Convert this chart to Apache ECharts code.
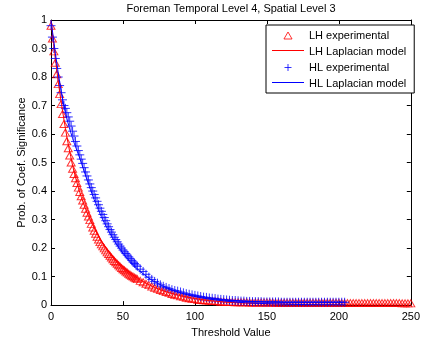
<!DOCTYPE html>
<html>
<head>
<meta charset="utf-8">
<script src="https://cdn.jsdelivr.net/npm/echarts@6/dist/echarts.min.js"></script>
<style>
html,body{margin:0;padding:0;background:#fff;}
#chart{width:423px;height:343px;}
</style>
</head>
<body>
<div id="chart"></div>
<script>
// ---- Data ----
const titleText = 'Foreman Temporal Level 4, Spatial Level 3';
const xName = 'Threshold Value';
const yName = 'Prob. of Coef. Significance';
const seriesNames = ['LH experimental', 'LH Laplacian model', 'HL experimental', 'HL Laplacian model'];

// LH experimental
const lhExpT = [0,1,2,3,4,5,6,7,8,9,10,11,12,13,14,15,16,17,18,19,20,21,22,23,24,25,26,27,28,29,30,31,32,33,34,35,36,37,38,39,40,41,42,43,44,45,46,47,48,49,50,51,52,53,54,55,56,57,58,59,60,
  62,64,66,68,70,72,74,76,78,80,82,84,86,88,90,92,94,96,98,100,102,104,106,108,110,112,114,116,118,120,122,124,126,128,130,132,134,136,138,140,142,144,146,148,150,152,154,156,158,160,162,164,166,168,170,172,174,176,178,180,182,184,186,188,190,192,194,196,198,200,202,204,206,208,210,212,214,216,218,220,222,224,226,228,230,232,234,236,238,240,242,244,246,248,250];
const lhExpP = [0.98,0.935,0.89,0.85,0.81,0.775,0.74,0.705,0.67,0.635,0.605,0.575,0.55,0.525,0.50,0.478,0.46,0.445,0.428,0.412,0.397,0.382,0.367,0.352,0.338,0.324,0.311,0.298,0.285,0.272,0.261,0.25,0.24,0.23,0.221,0.213,0.206,0.199,0.192,0.185,0.179,0.173,0.167,0.161,0.155,0.15,0.145,0.14,0.135,0.13,0.126,0.122,0.118,0.114,0.11,0.106,0.103,0.1,0.097,0.094,0.091,
  0.085,0.08,0.075,0.07,0.065,0.061,0.057,0.053,0.049,0.046,0.043,0.039,0.036,0.034,0.031,0.029,0.026,0.024,0.022,0.021,0.019,0.018,0.017,0.016,0.015,0.014,0.014,0.013,0.012,0.012,0.011,0.011,0.011,0.010,0.010,0.010,0.010,0.010,0.009,0.009,0.009,0.009,0.009,0.009,0.009,0.009,0.009,0.008,0.008,0.008,0.008,0.008,0.008,0.008,0.008,0.008,0.008,0.008,0.008,0.008,0.008,0.008,0.008,0.008,0.008,0.008,0.008,0.008,0.008,0.008,0.007,0.007,0.007,0.007,0.007,0.007,0.007,0.007,0.007,0.007,0.007,0.007,0.007,0.007,0.007,0.007,0.007,0.007,0.007,0.007,0.007,0.006,0.006,0.006,0.006,0.006];

// LH Laplacian model
const lhModT = [0,5,10,15,20,25,30,35,40,45,50,55,60,65,70,75,80,85,90,95,100,110,120,130,140,150,175,200,250];
const lhModP = [1.0,0.785,0.62,0.49,0.395,0.325,0.27,0.225,0.19,0.16,0.135,0.113,0.095,0.08,0.067,0.056,0.047,0.04,0.033,0.028,0.023,0.016,0.011,0.008,0.006,0.004,0.002,0.001,0.0];

// HL experimental
const hlExpT = [0,1,2,3,4,5,6,7,8,9,10,11,12,13,14,15,16,17,18,19,20,21,22,23,24,25,26,27,28,29,30,31,32,33,34,35,36,37,38,39,40,41,42,43,44,45,46,47,48,49,50,51,52,53,54,55,56,57,58,59,60,
  62,64,66,68,70,72,74,76,78,80,82,84,86,88,90,92,94,96,98,100,102,104,106,108,110,112,114,116,118,120,122,124,126,128,130,132,134,136,138,140,142,144,146,148,150,152,154,156,158,160,162,164,166,168,170,172,174,176,178,180,182,184,186,188,190,192,194,196,198,200,202,204];
const hlExpP = [0.98,0.94,0.90,0.865,0.83,0.80,0.77,0.745,0.72,0.70,0.69,0.675,0.66,0.645,0.628,0.61,0.593,0.574,0.558,0.542,0.527,0.512,0.497,0.482,0.467,0.453,0.439,0.425,0.412,0.40,0.388,0.376,0.364,0.352,0.34,0.329,0.318,0.307,0.296,0.285,0.275,0.265,0.256,0.247,0.238,0.23,0.222,0.214,0.207,0.20,0.193,0.187,0.181,0.175,0.169,0.163,0.157,0.151,0.146,0.141,0.136,
  0.126,0.118,0.108,0.098,0.09,0.083,0.077,0.071,0.066,0.062,0.058,0.054,0.051,0.049,0.046,0.043,0.04,0.038,0.036,0.034,0.032,0.03,0.028,0.027,0.025,0.024,0.023,0.021,0.02,0.019,0.018,0.017,0.016,0.016,0.015,0.014,0.014,0.013,0.013,0.012,0.012,0.012,0.012,0.011,0.011,0.011,0.011,0.011,0.011,0.010,0.010,0.010,0.010,0.010,0.010,0.010,0.010,0.010,0.010,0.010,0.010,0.010,0.010,0.010,0.010,0.010,0.010,0.010,0.010,0.010,0.010,0.010];

// HL Laplacian model
const hlModT = [0,5,10,15,20,25,30,35,40,45,50,55,60,65,70,75,80,85,90,95,100,110,120,130,140,150,175,205];
const hlModP = [1.0,0.815,0.675,0.585,0.515,0.44,0.37,0.31,0.26,0.217,0.182,0.152,0.127,0.106,0.088,0.074,0.062,0.051,0.043,0.036,0.03,0.021,0.015,0.01,0.007,0.005,0.002,0.001];

// axis ranges / ticks
const xMin = 0, xMax = 250, xStep = 50;
const yMin = 0, yMax = 1, yStep = 0.1;

function pairs(t, p) { return t.map((v, i) => [v, p[i]]); }

const RED = '#ff0000', BLUE = '#0000ff';
const FONT = 'Liberation Sans, Arial, sans-serif';
const FS = 11;
const plusPath = 'path://M0,5L10,5M5,0L5,10';
const triPath = 'path://M0,10L5.8,0L11.6,10Z';
const NOFILL = 'rgba(0,0,0,0)';

const axisCommon = {
  type: 'value',
  axisLine: { show: true, onZero: false, lineStyle: { color: '#000', width: 1 } },
  axisTick: { show: true, inside: true, length: 4, lineStyle: { color: '#000' } },
  splitLine: { show: false },
  axisLabel: { color: '#000', fontSize: FS, fontFamily: FONT }
};

const chart = echarts.init(document.getElementById('chart'), null, { renderer: 'canvas' });
chart.setOption({
  animation: false,
  backgroundColor: '#fff',
  title: {
    text: titleText, left: 231, top: 3, padding: 0, textAlign: 'center',
    textStyle: { fontSize: FS, fontWeight: 'normal', color: '#000', fontFamily: FONT }
  },
  grid: { left: 51, right: 8, top: 20, bottom: 37, containLabel: false },
  legend: {
    orient: 'vertical', left: 266, top: 25,
    backgroundColor: '#fff', borderColor: '#000', borderWidth: 1,
    padding: [5, 8, 4, 6], itemWidth: 32, itemHeight: 7, itemGap: 5,
    symbolKeepAspect: true,
    textStyle: { fontSize: FS, color: '#000', fontFamily: FONT },
    data: [
      { name: seriesNames[0], icon: triPath, itemStyle: { color: NOFILL, borderColor: RED, borderWidth: 1 } },
      { name: seriesNames[1], icon: 'none' },
      { name: seriesNames[2], icon: plusPath, itemStyle: { color: NOFILL, borderColor: BLUE, borderWidth: 1 } },
      { name: seriesNames[3], icon: 'none' }
    ]
  },
  // legend line swatches for the two model curves
  graphic: [
    { type: 'line', z: 100, silent: true, shape: { x1: 272, y1: 50.5, x2: 304, y2: 50.5 }, style: { stroke: RED, lineWidth: 1 } },
    { type: 'line', z: 100, silent: true, shape: { x1: 272, y1: 82.5, x2: 304, y2: 82.5 }, style: { stroke: BLUE, lineWidth: 1 } }
  ],
  xAxis: [
    Object.assign({}, axisCommon, {
      min: xMin, max: xMax, interval: xStep, position: 'bottom',
      name: xName, nameLocation: 'middle', nameGap: 19,
      nameTextStyle: { fontSize: FS, color: '#000', fontFamily: FONT },
      axisLabel: Object.assign({}, axisCommon.axisLabel, { margin: 6 })
    }),
    Object.assign({}, axisCommon, {
      min: xMin, max: xMax, interval: xStep, position: 'top',
      axisLabel: { show: false }
    })
  ],
  yAxis: [
    Object.assign({}, axisCommon, {
      min: yMin, max: yMax, interval: yStep, position: 'left',
      name: yName, nameLocation: 'middle', nameGap: 24, nameRotate: 90, nameMoveOverlap: false,
      nameTextStyle: { fontSize: FS, color: '#000', fontFamily: FONT },
      axisLabel: Object.assign({}, axisCommon.axisLabel, { margin: 4 })
    }),
    Object.assign({}, axisCommon, {
      min: yMin, max: yMax, interval: yStep, position: 'right',
      axisLabel: { show: false }
    })
  ],
  series: [
    {
      name: seriesNames[0], type: 'scatter', xAxisIndex: 0, yAxisIndex: 0,
      data: pairs(lhExpT, lhExpP), symbol: 'triangle', symbolSize: [8, 7],
      itemStyle: { color: NOFILL, borderColor: RED, borderWidth: 1 }
    },
    {
      name: seriesNames[1], type: 'line', xAxisIndex: 0, yAxisIndex: 0,
      data: pairs(lhModT, lhModP), symbol: 'none', smooth: 0.3,
      lineStyle: { color: RED, width: 1 }, itemStyle: { color: RED }
    },
    {
      name: seriesNames[2], type: 'scatter', xAxisIndex: 0, yAxisIndex: 0,
      data: pairs(hlExpT, hlExpP), symbol: plusPath, symbolSize: 9,
      itemStyle: { color: NOFILL, borderColor: BLUE, borderWidth: 1 }
    },
    {
      name: seriesNames[3], type: 'line', xAxisIndex: 0, yAxisIndex: 0,
      data: pairs(hlModT, hlModP), symbol: 'none', smooth: 0.3,
      lineStyle: { color: BLUE, width: 1 }, itemStyle: { color: BLUE }
    }
  ]
});
</script>
</body>
</html>
